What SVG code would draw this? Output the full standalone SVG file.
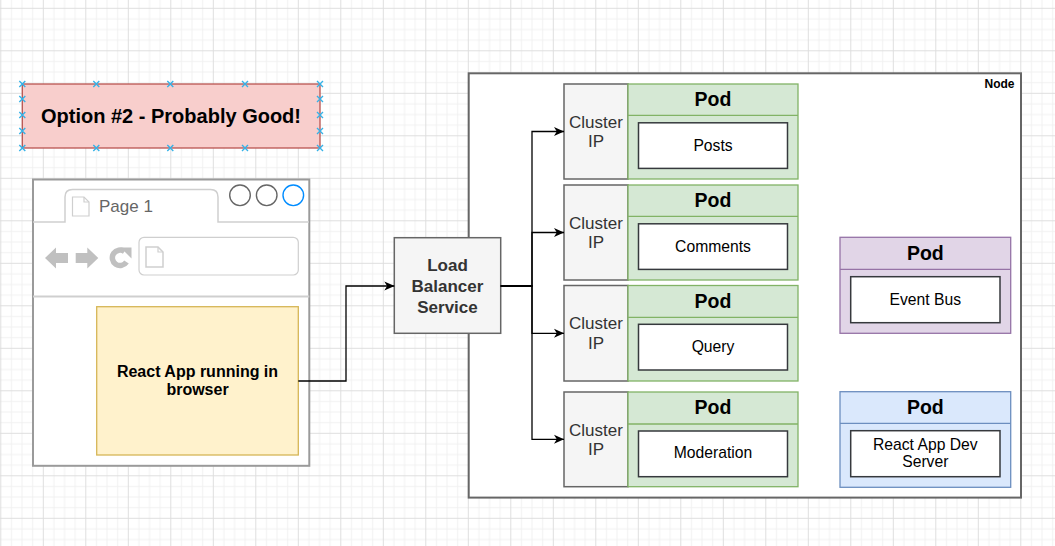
<svg xmlns="http://www.w3.org/2000/svg" width="1055" height="546" viewBox="0 0 1055 546">
<defs>
<pattern id="grid" x="0.3" y="7.8" width="42.5" height="42.5" patternUnits="userSpaceOnUse">
<path d="M11.125 0V42.5M21.75 0V42.5M32.375 0V42.5M0 11.125H42.5M0 21.75H42.5M0 32.375H42.5" stroke="#f1f1f1" stroke-width="1" fill="none"/>
<path d="M0.5 0V42.5M0 0.5H42.5" stroke="#dedede" stroke-width="1" fill="none"/>
</pattern>
<marker id="arr" markerUnits="userSpaceOnUse" markerWidth="10" markerHeight="10" viewBox="0 0 10 10" refX="10" refY="5" orient="auto">
<path d="M0 0.5L10 5L0 9.5L2.8 5Z" fill="#000"/>
</marker>
<g id="sel"><path d="M-3 -3L3 3M3 -3L-3 3" stroke="#35b2e8" stroke-width="1.4"/></g>
</defs>
<style>
.t{font-family:"Liberation Sans",Arial,sans-serif;}
.b{font-weight:bold;}
.cip{fill:#f5f5f5;stroke:#666;stroke-width:1.5;}
.inner{fill:#fff;stroke:#36393d;stroke-width:1.5;}
.gpod{fill:#d5e8d4;stroke:#82b366;stroke-width:1.3;}
.ppod{fill:#e1d5e7;stroke:#9673a6;stroke-width:1.3;}
.bpod{fill:#dae8fc;stroke:#6c8ebf;stroke-width:1.3;}
.conn{fill:none;stroke:#000;stroke-width:1.3;}
.podt{font-size:19.5px;font-weight:bold;fill:#000;}
.lbl{font-size:15.7px;fill:#000;}
.cipt{font-size:17px;fill:#333;}
</style>
<rect width="1055" height="546" fill="#fff"/>
<rect width="1055" height="546" fill="url(#grid)"/>

<g id="option">
<rect x="22.3" y="84" width="297.7" height="64" fill="#f8cecc" stroke="#b85450" stroke-width="1.3"/>
<text class="t b" x="171" y="123" text-anchor="middle" font-size="20" fill="#000">Option #2 - Probably Good!</text>
<use href="#sel" x="22.3" y="84"/><use href="#sel" x="96.3" y="84"/><use href="#sel" x="170.3" y="84"/><use href="#sel" x="245" y="84"/><use href="#sel" x="320" y="84"/>
<use href="#sel" x="22.3" y="148"/><use href="#sel" x="96.3" y="148"/><use href="#sel" x="170.3" y="148"/><use href="#sel" x="245" y="148"/><use href="#sel" x="320" y="148"/>
<use href="#sel" x="22.3" y="99"/><use href="#sel" x="22.3" y="115"/><use href="#sel" x="22.3" y="131"/>
<use href="#sel" x="320" y="99"/><use href="#sel" x="320" y="115"/><use href="#sel" x="320" y="131"/>
</g>

<g id="browser">
<rect x="33" y="179.5" width="276.3" height="286.3" fill="#fff" stroke="#9a9a9a" stroke-width="2"/>
<path d="M33 222H65V197Q65 189.5 72.5 189.5H210.5Q218 189.5 218 197V222H309" fill="none" stroke="#cfcfcf" stroke-width="1.5"/>
<path d="M72.5 197H84L89 202V216H72.5Z" fill="#fff" stroke="#cfcfcf" stroke-width="1.2"/>
<path d="M84 197V202H89" fill="none" stroke="#cfcfcf" stroke-width="1.2"/>
<text class="t" x="99" y="211.5" font-size="17" fill="#666">Page 1</text>
<circle cx="240" cy="195.3" r="10.3" fill="#fff" stroke="#666" stroke-width="1.4"/>
<circle cx="266.7" cy="195.3" r="10.3" fill="#fff" stroke="#666" stroke-width="1.4"/>
<circle cx="293.3" cy="195.3" r="10.3" fill="#fff" stroke="#008cff" stroke-width="1.4"/>
<polygon points="45,258 56,247.5 56,253 68,253 68,263 56,263 56,268.5" fill="#c0c0c0"/>
<polygon points="98.3,258 87.3,247.5 87.3,253 75.7,253 75.7,263 87.3,263 87.3,268.5" fill="#c0c0c0"/>
<path d="M126.5 262A7.7 7.7 0 1 1 124.5 251.5" fill="none" stroke="#c0c0c0" stroke-width="5.5"/>
<polygon points="120.5,247.5 131.5,247.5 131.5,258.5" fill="#c0c0c0"/>
<rect x="139" y="237.3" width="159.3" height="37.7" rx="5" fill="#fff" stroke="#cfcfcf" stroke-width="1.2"/>
<path d="M146 247H158L163 252V267H146Z" fill="#fff" stroke="#cfcfcf" stroke-width="1.5"/>
<path d="M158 247V252H163" fill="none" stroke="#cfcfcf" stroke-width="1.2"/>
<line x1="33" y1="296.5" x2="309.3" y2="296.5" stroke="#cfcfcf" stroke-width="2"/>
</g>

<g id="react-app">
<rect x="96.7" y="306.7" width="201.6" height="148.3" fill="#fff2cc" stroke="#d6b656" stroke-width="1.3"/>
<text class="t b" x="197.5" y="377" text-anchor="middle" font-size="16" fill="#000">React App running in</text>
<text class="t b" x="197.5" y="395" text-anchor="middle" font-size="16" fill="#000">browser</text>
</g>

<g id="node-container">
<rect x="468.7" y="73.3" width="552.3" height="424.3" fill="#fff" stroke="#666" stroke-width="2"/>
<text class="t b" x="1014.5" y="87.5" text-anchor="end" font-size="12" fill="#000">Node</text>
</g>

<g id="load-balancer">
<rect x="394.3" y="237.7" width="106.4" height="95.6" fill="#f5f5f5" stroke="#666" stroke-width="1.5"/>
<text class="t b" text-anchor="middle" font-size="17" fill="#333"><tspan x="447.5" y="271">Load</tspan><tspan x="447.5" y="292">Balancer</tspan><tspan x="447.5" y="312.5">Service</tspan></text>
</g>

<g id="pod-posts">
<rect class="cip" x="564" y="84" width="64" height="95"/>
<text class="t cipt" text-anchor="middle"><tspan x="596" y="127.8">Cluster</tspan><tspan x="596" y="147">IP</tspan></text>
<rect class="gpod" x="628" y="84" width="170" height="95"/>
<line x1="628" y1="115.3" x2="798" y2="115.3" stroke="#82b366" stroke-width="1.3"/>
<text class="t podt" x="713" y="106" text-anchor="middle">Pod</text>
<rect class="inner" x="638.5" y="122.8" width="149" height="45.6"/>
<text class="t lbl" x="713" y="150.5" text-anchor="middle">Posts</text>
</g>

<g id="pod-comments">
<rect class="cip" x="564" y="185" width="64" height="95"/>
<text class="t cipt" text-anchor="middle"><tspan x="596" y="228.8">Cluster</tspan><tspan x="596" y="248">IP</tspan></text>
<rect class="gpod" x="628" y="185" width="170" height="95"/>
<line x1="628" y1="216.3" x2="798" y2="216.3" stroke="#82b366" stroke-width="1.3"/>
<text class="t podt" x="713" y="207" text-anchor="middle">Pod</text>
<rect class="inner" x="638.5" y="223.8" width="149" height="45.6"/>
<text class="t lbl" x="713" y="251.5" text-anchor="middle">Comments</text>
</g>

<g id="pod-query">
<rect class="cip" x="564" y="285.5" width="64" height="95.5"/>
<text class="t cipt" text-anchor="middle"><tspan x="596" y="329.3">Cluster</tspan><tspan x="596" y="348.5">IP</tspan></text>
<rect class="gpod" x="628" y="285.5" width="170" height="95.5"/>
<line x1="628" y1="317.3" x2="798" y2="317.3" stroke="#82b366" stroke-width="1.3"/>
<text class="t podt" x="713" y="307.5" text-anchor="middle">Pod</text>
<rect class="inner" x="638.5" y="324.3" width="149" height="45.7"/>
<text class="t lbl" x="713" y="352.2" text-anchor="middle">Query</text>
</g>

<g id="pod-moderation">
<rect class="cip" x="564" y="392" width="64" height="94.7"/>
<text class="t cipt" text-anchor="middle"><tspan x="596" y="435.5">Cluster</tspan><tspan x="596" y="454.8">IP</tspan></text>
<rect class="gpod" x="628" y="392" width="170" height="94.7"/>
<line x1="628" y1="424" x2="798" y2="424" stroke="#82b366" stroke-width="1.3"/>
<text class="t podt" x="713" y="414" text-anchor="middle">Pod</text>
<rect class="inner" x="638.5" y="431" width="149" height="45.7"/>
<text class="t lbl" x="713" y="458.4" text-anchor="middle">Moderation</text>
</g>

<g id="pod-event-bus">
<rect class="ppod" x="840" y="237.3" width="170.7" height="96"/>
<line x1="840" y1="269.3" x2="1010.7" y2="269.3" stroke="#9673a6" stroke-width="1.3"/>
<text class="t podt" x="925.3" y="260" text-anchor="middle">Pod</text>
<rect class="inner" x="850.7" y="276.7" width="149.3" height="46"/>
<text class="t lbl" x="925.3" y="304.5" text-anchor="middle">Event Bus</text>
</g>

<g id="pod-react-dev">
<rect class="bpod" x="840" y="391.7" width="170.7" height="95.6"/>
<line x1="840" y1="423.3" x2="1010.7" y2="423.3" stroke="#6c8ebf" stroke-width="1.3"/>
<text class="t podt" x="925.3" y="414" text-anchor="middle">Pod</text>
<rect class="inner" x="850.7" y="430.7" width="149.3" height="46"/>
<text class="t lbl" text-anchor="middle"><tspan x="925.3" y="450">React App Dev</tspan><tspan x="925.3" y="467.3">Server</tspan></text>
</g>

<g id="connectors">
<path class="conn" d="M298.3 381H346V286H394.3" marker-end="url(#arr)"/>
<path class="conn" d="M500.7 286H532V131.5H564" marker-end="url(#arr)"/>
<path class="conn" d="M500.7 286H532V232.5H564" marker-end="url(#arr)"/>
<path class="conn" d="M500.7 286H532V333.3H564" marker-end="url(#arr)"/>
<path class="conn" d="M500.7 286H532V439.3H564" marker-end="url(#arr)"/>
</g>
</svg>
